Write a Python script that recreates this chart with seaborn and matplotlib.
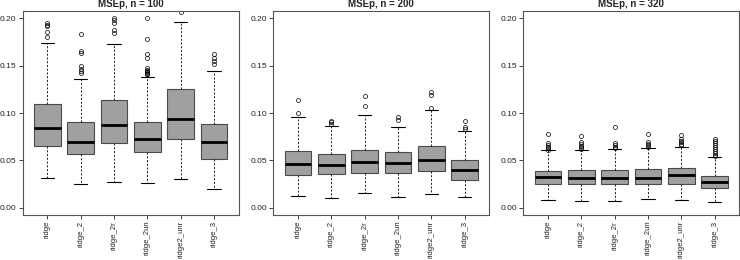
import numpy as np
import pandas as pd
import matplotlib
matplotlib.use('Agg')
import matplotlib.pyplot as plt
import seaborn as sns

methods = ['ridge', 'ridge_2', 'ridge_2r', 'ridge_2un', 'ridge2_unr', 'ridge_3']
sizes = [100, 200, 320]

# five-number summaries (lower whisker, q1, median, q3, upper whisker)
lo_100 = [0.0313, 0.0247, 0.0274, 0.0257, 0.0299, 0.0197]
q1_100 = [0.0648, 0.0563, 0.0679, 0.0584, 0.0721, 0.0510]
med_100 = [0.0844, 0.0696, 0.0876, 0.0721, 0.0939, 0.0690]
q3_100 = [0.1093, 0.0901, 0.1143, 0.0911, 0.1252, 0.0890]
hi_100 = [0.1744, 0.1362, 0.1727, 0.1377, 0.1966, 0.1449]
out_100 = [
    [0.1804, 0.1857, 0.1920, 0.1935, 0.1955],
    [0.1420, 0.1445, 0.1470, 0.1498, 0.1640, 0.1656, 0.1832],
    [0.1845, 0.1880, 0.1955, 0.1980, 0.2008],
    [0.1410, 0.1415, 0.1420, 0.1430, 0.1445, 0.1460, 0.1480, 0.1586, 0.1620, 0.1780, 0.2000],
    [0.2072],
    [0.1516, 0.1550, 0.1580, 0.1620],
]

lo_200 = [0.0127, 0.0102, 0.0152, 0.0110, 0.0141, 0.0110]
q1_200 = [0.0348, 0.0352, 0.0366, 0.0363, 0.0384, 0.0292]
med_200 = [0.0464, 0.0450, 0.0485, 0.0471, 0.0500, 0.0398]
q3_200 = [0.0601, 0.0566, 0.0612, 0.0584, 0.0647, 0.0503]
hi_200 = [0.0963, 0.0865, 0.0975, 0.0858, 0.1035, 0.0812]
out_200 = [
    [0.0998, 0.1135],
    [0.0890, 0.0903, 0.0918],
    [0.1070, 0.1181],
    [0.0925, 0.0964],
    [0.1055, 0.1189, 0.1224],
    [0.0830, 0.0848, 0.0915],
]

lo_320 = [0.0078, 0.0071, 0.0071, 0.0092, 0.0081, 0.0063]
q1_320 = [0.0246, 0.0247, 0.0250, 0.0247, 0.0253, 0.0205]
med_320 = [0.0320, 0.0310, 0.0313, 0.0313, 0.0342, 0.0268]
q3_320 = [0.0392, 0.0394, 0.0401, 0.0405, 0.0415, 0.0338]
hi_320 = [0.0605, 0.0609, 0.0619, 0.0633, 0.0640, 0.0531]
out_320 = [
    [0.0615, 0.0630, 0.0645, 0.0660, 0.0680, 0.0784],
    [0.0625, 0.0640, 0.0655, 0.0670, 0.0690, 0.0760],
    [0.0630, 0.0645, 0.0660, 0.0682, 0.0858],
    [0.0645, 0.0660, 0.0675, 0.0690, 0.0774],
    [0.0660, 0.0675, 0.0690, 0.0705, 0.0725, 0.0767],
    [0.0545, 0.0560, 0.0580, 0.0600, 0.0620, 0.0640, 0.0660, 0.0680, 0.0705, 0.0725],
]

panels = {
    100: (lo_100, q1_100, med_100, q3_100, hi_100, out_100),
    200: (lo_200, q1_200, med_200, q3_200, hi_200, out_200),
    320: (lo_320, q1_320, med_320, q3_320, hi_320, out_320),
}


def rebuild(lo, q1, med, q3, hi, out):
    # a small sample whose quartiles / whiskers / fliers give back the read summary
    u = len(out)
    return [lo] + [q1] * (2 * u + 2) + [med] + [q3] * (u + 2) + [hi] + list(out)


rows = []
for n, (lo, q1, med, q3, hi, out) in panels.items():
    for k, m in enumerate(methods):
        for v in rebuild(lo[k], q1[k], med[k], q3[k], hi[k], out[k]):
            rows.append((n, m, v))
df = pd.DataFrame(rows, columns=['n', 'method', 'value'])

sns.set_style('white')
plt.rcParams['font.family'] = ['Liberation Sans', 'DejaVu Sans']

fig = plt.figure(figsize=(7.4, 2.6), dpi=100)
lefts = [0.0307, 0.3693, 0.7072]

for left, n in zip(lefts, sizes):
    ax = fig.add_axes([left, 0.172, 0.2919, 0.786])
    sns.boxplot(
        data=df[df['n'] == n], x='method', y='value', order=methods, ax=ax,
        color='#a0a0a0', saturation=1, width=0.8, linecolor='#4a4a4a', linewidth=0.8,
        whis=1.5,
        medianprops={'color': 'black', 'linewidth': 2.0},
        whiskerprops={'color': 'black', 'linestyle': (0, (2.5, 2)), 'linewidth': 0.6},
        capprops={'color': 'black', 'linewidth': 0.8},
        flierprops={'marker': 'o', 'markerfacecolor': 'none', 'markeredgecolor': 'black',
                    'markersize': 2.9, 'markeredgewidth': 0.5},
    )
    ax.set_xlim(-0.74, 5.74)
    ax.set_ylim(-0.008, 0.208)
    ax.set_yticks([0.0, 0.05, 0.10, 0.15, 0.20])
    ax.set_yticklabels(['0.00', '0.05', '0.10', '0.15', '0.20'])
    ax.set_xticks(range(len(methods)))
    ax.set_xticklabels(methods, rotation=90)
    ax.set_xlabel('')
    ax.set_ylabel('')
    ax.tick_params(axis='both', direction='out', length=3, width=0.6, pad=1.5,
                   labelsize=6, colors='#222222', left=True, bottom=True)
    ax.tick_params(axis='x', labelsize=5.6, pad=1)
    for sp in ax.spines.values():
        sp.set_color('#555555')
        sp.set_linewidth(0.8)
    ax.set_title(f'MSEp, n = {n}', fontsize=7, fontweight='bold', pad=2.5)

fig.savefig('out.png', dpi=100)
